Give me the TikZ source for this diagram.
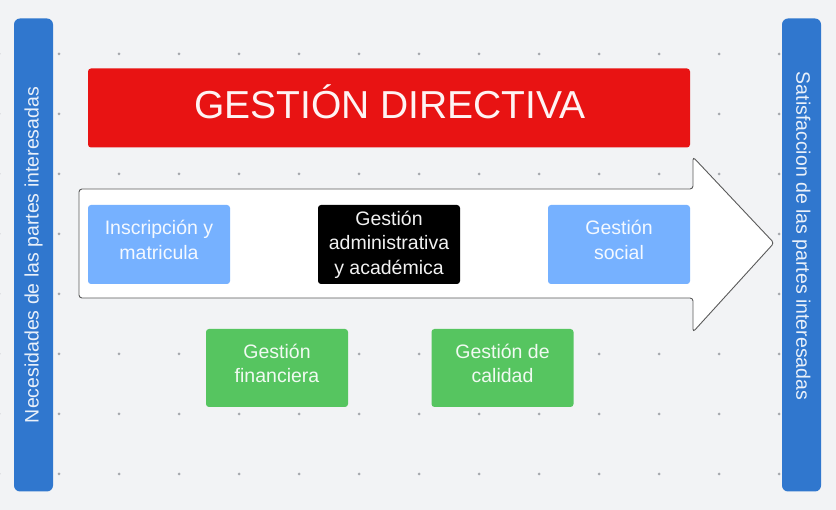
\documentclass[tikz,border=0pt]{standalone}
\usepackage{fontspec}
\setmainfont{Liberation Sans}
\definecolor{bg}{RGB}{242,243,245}
\definecolor{dotc}{RGB}{165,168,173}
\definecolor{redb}{RGB}{232,19,19}
\definecolor{lblue}{RGB}{118,177,255}
\definecolor{barblue}{RGB}{48,119,206}
\definecolor{greenb}{RGB}{86,197,96}
\definecolor{arrowline}{RGB}{90,90,90}
\begin{document}
\begin{tikzpicture}[x=1pt,y=-1pt,
  box/.style={rectangle,rounded corners=3pt,minimum width=142pt,minimum height=79pt,
    inner sep=0pt,align=center,text=white,font=\fontsize{19.5}{24.5}\selectfont},
  bluebox/.style={box,fill=lblue,text=white!92!lblue,text depth=9pt},
  blackbox/.style={box,fill=black,text=white!95!black},
  greenbox/.style={box,fill=greenb,text=white!92!greenb,minimum height=78pt,text depth=9pt},
  sidebar/.style={rectangle,rounded corners=6pt,fill=barblue,minimum width=39pt,minimum height=473pt,inner sep=0pt},
  sidetext/.style={text=white!90!barblue,font=\fontsize{19.5}{24}\selectfont,inner sep=0pt},
  griddot/.style={fill=dotc,draw=none}
]
\useasboundingbox (0,0) rectangle (836,510);
\fill[bg] (0,0) rectangle (836,510);
% dot grid
\foreach \i in {0,...,13} {
  \foreach \j in {0,...,7} {
    \fill[griddot] ({-1+60*\i},{54+60*\j}) circle (1.5pt);
  }
}
% side bars
\node[sidebar] (leftbar) at (33.5,255) {};
\node[sidebar] (rightbar) at (801.5,255) {};
\node[sidetext,rotate=90] (lefttext) at (33.5,255) {Necesidades de las partes interesadas};
\node[sidetext,rotate=-90] (righttext) at (801.5,236) {Satisfaccion de las partes interesadas};
% title
\node[rectangle,rounded corners=3pt,fill=redb,minimum width=602pt,minimum height=79pt,inner sep=0pt] (title) at (389,108) {};
\node[text=white!95!redb,font=\fontsize{39}{45}\selectfont,inner sep=0pt] (titletext) at (390,102) {GESTIÓN DIRECTIVA};
% arrow
\draw[fill=white,draw=arrowline,line width=0.9pt,rounded corners=3pt]
  (79,189) -- (693,189) -- (693,157) -- (774,243) -- (693,332) -- (693,298) -- (79,298) -- cycle;
% process boxes
\node[bluebox] (insc) at (159,244.5) {Inscripción y\\matricula};
\node[blackbox] (admin) at (389,244.5) {Gestión\\administrativa\\y académica};
\node[bluebox] (social) at (619,244.5) {Gestión\\social};
\node[greenbox] (fin) at (277,368) {Gestión\\financiera};
\node[greenbox] (cal) at (502.5,368) {Gestión de\\calidad};
\end{tikzpicture}
\end{document}
